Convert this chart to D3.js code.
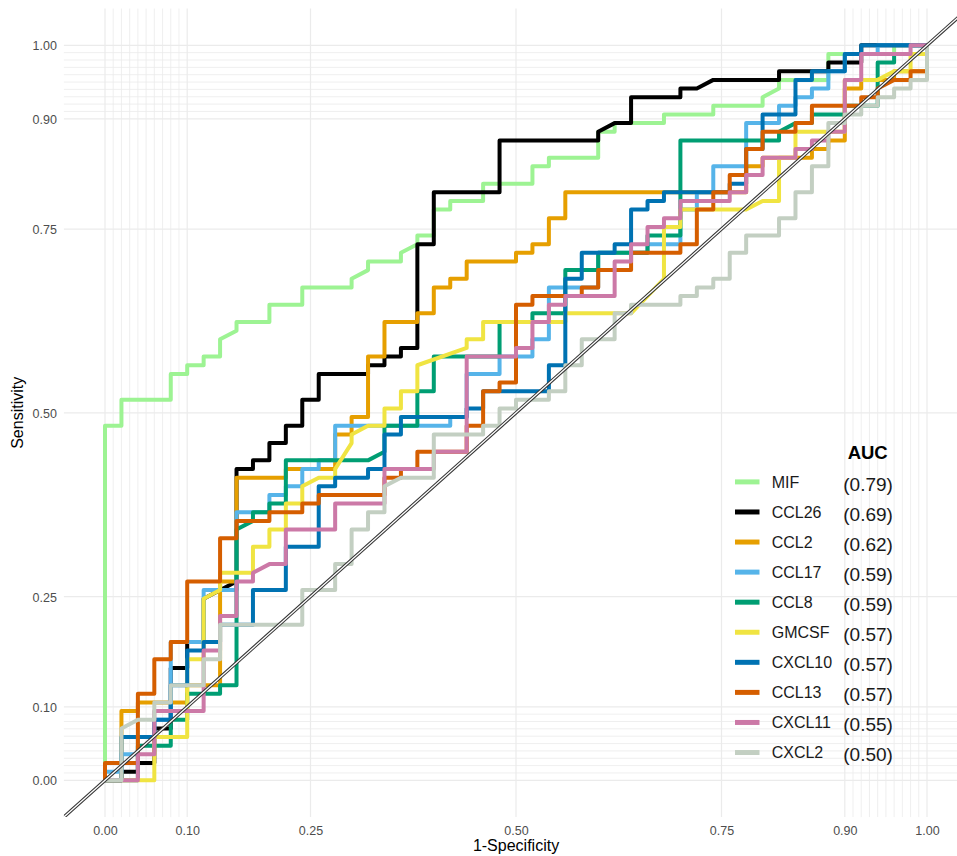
<!DOCTYPE html>
<html>
<head>
<meta charset="utf-8">
<script src="https://cdn.jsdelivr.net/npm/d3@7"></script>
<style>
  body { margin: 0; background: #fff; }
  svg { display: block; font-family: "Liberation Sans", Arial, sans-serif; }
</style>
</head>
<body>
<svg id="chart" width="957" height="856"></svg>
<script>
// ROC points stored as [false positives, true positives] counts
const N_NEG = 50;
const N_POS = 85;

const markers = ['MIF', 'CCL26', 'CCL2', 'CCL17', 'CCL8', 'GMCSF', 'CXCL10', 'CCL13', 'CXCL11', 'CXCL2'];
const aucLabels = ['(0.79)', '(0.69)', '(0.62)', '(0.59)', '(0.59)', '(0.57)', '(0.57)', '(0.57)', '(0.55)', '(0.50)'];
const colors = ['#9DF393', '#000000', '#E69F00', '#56B4E9', '#009E73', '#F0E442', '#0072B2', '#D55E00', '#CC79A7', '#C3CFC2'];

const majorBreaks = [0, 0.1, 0.25, 0.5, 0.75, 0.9, 1];
const minorBreaks = [0.01, 0.02, 0.03, 0.04, 0.05, 0.06, 0.07, 0.08, 0.09,
                     0.91, 0.92, 0.93, 0.94, 0.95, 0.96, 0.97, 0.98, 0.99];

const rocMIF = [[0,0],[0,41],[1,41],[1,44],[4,44],[4,47],[5,47],[5,48],[6,48],[6,49],[7,49],[7,51],[8,52],[8,53],
  [10,53],[10,55],[12,55],[12,57],[15,57],[15,58],[16,59],[16,60],[18,60],[18,61],[19,62],[19,63],[20,63],[20,66],
  [21,66],[21,67],[23,67],[23,69],[26,69],[26,71],[27,71],[27,72],[30,72],[30,75],[31,75],[31,76],[34,76],[34,77],
  [37,77],[37,78],[40,78],[40,79],[41,80],[41,81],[44,81],[44,84],[48,84],[48,85],[50,85]];

const rocCCL26 = [[0,0],[1,0],[1,1],[2,1],[2,2],[3,2],[3,6],[4,6],[4,13],[5,13],[5,16],[6,16],[6,21],[8,23],[8,36],
  [9,36],[9,37],[10,37],[10,39],[11,39],[11,41],[12,41],[12,44],[13,44],[13,47],[16,47],[16,48],[17,48],[17,49],
  [18,49],[18,50],[19,50],[19,62],[20,62],[20,68],[24,68],[24,74],[30,74],[30,75],[31,76],[32,76],[32,79],[35,79],
  [35,80],[36,80],[37,81],[41,81],[41,82],[44,82],[44,83],[46,83],[46,85],[50,85]];

const rocCCL2 = [[0,0],[1,0],[1,8],[2,8],[2,9],[5,9],[5,11],[7,11],[7,23],[8,23],[8,35],[11,35],[11,36],[14,36],
  [14,40],[15,40],[15,42],[16,42],[16,49],[17,49],[17,53],[19,53],[19,54],[20,54],[20,57],[21,57],[21,58],[22,58],
  [22,60],[25,60],[25,61],[26,61],[26,62],[27,62],[27,65],[28,65],[28,68],[39,68],[39,71],[40,71],[40,72],[43,72],
  [43,73],[44,73],[44,74],[45,74],[45,80],[46,80],[46,81],[48,81],[48,82],[50,82],[50,85]];

const rocCCL17 = [[0,0],[0,1],[1,1],[1,3],[2,3],[2,5],[3,5],[3,7],[4,7],[4,16],[6,16],[6,22],[8,22],[8,31],[10,31],
  [10,33],[11,33],[11,34],[12,34],[12,36],[13,36],[13,37],[14,37],[14,41],[21,41],[21,42],[22,42],[22,47],[24,47],
  [24,49],[26,49],[26,51],[27,51],[27,57],[30,57],[30,61],[33,61],[33,62],[35,62],[35,66],[36,66],[36,68],[37,68],
  [37,71],[39,71],[39,76],[41,76],[41,78],[42,78],[42,79],[43,79],[43,80],[44,80],[44,82],[45,82],[45,84],[47,84],
  [47,85],[50,85]];

const rocCCL8 = [[0,0],[2,0],[2,4],[4,4],[4,7],[5,7],[5,10],[7,10],[7,11],[8,11],[8,29],[9,30],[9,31],[10,31],
  [10,32],[11,32],[11,37],[16,37],[17,38],[17,41],[19,41],[19,45],[20,45],[20,49],[24,49],[24,53],[26,53],[26,54],
  [28,54],[28,59],[30,59],[30,61],[33,61],[33,63],[35,63],[35,74],[41,74],[41,75],[42,76],[43,76],[43,77],[45,77],
  [45,78],[47,78],[47,83],[48,83],[48,84],[50,84],[50,85]];

const rocGMCSF = [[0,0],[3,0],[3,5],[5,5],[5,14],[6,14],[6,21],[7,22],[7,24],[9,24],[9,27],[10,27],[10,29],[11,29],
  [11,32],[12,32],[12,34],[13,35],[14,35],[14,36],[15,39],[15,40],[16,41],[17,41],[17,43],[18,43],[18,45],[19,45],
  [19,48],[22,50],[22,51],[23,51],[23,53],[28,53],[28,54],[32,54],[34,58],[34,64],[35,64],[35,66],[39,66],[40,67],
  [41,67],[41,72],[42,72],[42,75],[45,75],[45,81],[47,81],[48,82],[49,82],[49,84],[50,84],[50,85]];

const rocCXCL10 = [[0,0],[1,0],[1,5],[3,5],[3,7],[4,7],[4,11],[5,11],[5,15],[6,15],[6,16],[7,16],[7,18],[9,18],
  [9,22],[11,22],[11,27],[13,27],[13,34],[14,34],[14,35],[16,35],[16,36],[17,36],[17,40],[18,40],[18,42],[22,42],
  [22,43],[23,43],[23,45],[27,45],[27,48],[28,48],[28,58],[29,58],[29,61],[31,61],[31,62],[32,62],[32,66],[33,66],
  [33,67],[34,67],[34,68],[38,68],[38,69],[39,69],[39,73],[40,73],[40,77],[42,77],[42,81],[43,81],[43,82],[45,82],
  [45,84],[46,84],[46,85],[50,85]];

const rocCCL13 = [[0,0],[0,2],[2,2],[2,10],[3,10],[3,14],[4,14],[4,16],[5,16],[5,23],[7,23],[7,28],[8,28],[8,30],
  [10,30],[10,31],[12,31],[12,32],[13,32],[13,33],[17,33],[17,35],[18,35],[18,36],[19,36],[19,38],[22,38],[22,41],
  [23,41],[23,45],[24,45],[24,46],[25,46],[25,55],[26,55],[26,56],[29,56],[29,57],[30,57],[30,59],[32,59],[32,61],
  [35,61],[35,62],[36,62],[36,66],[37,66],[37,68],[38,68],[38,70],[39,70],[39,73],[40,73],[40,75],[42,75],[42,76],
  [43,76],[43,78],[46,78],[46,79],[47,79],[47,80],[48,81],[49,81],[49,82],[50,82],[50,85]];

const rocCXCL11 = [[0,0],[2,0],[2,3],[3,3],[3,8],[6,8],[6,15],[7,15],[7,19],[8,19],[8,23],[9,23],[9,24],[10,25],
  [11,25],[11,29],[14,29],[14,32],[17,32],[17,36],[20,36],[20,38],[22,38],[22,49],[25,49],[25,50],[26,50],[26,53],
  [27,53],[27,55],[28,55],[28,56],[31,56],[31,60],[32,60],[32,62],[33,62],[33,64],[34,64],[34,65],[35,65],[35,67],
  [38,67],[38,68],[39,68],[39,70],[40,70],[40,72],[42,72],[42,73],[43,73],[43,74],[44,74],[44,75],[45,75],[45,81],
  [46,81],[46,84],[49,84],[49,85],[50,85]];

const rocCXCL2 = [[0,0],[1,0],[1,6],[2,7],[3,7],[3,9],[4,9],[4,11],[6,11],[6,14],[7,14],[7,18],[12,18],[12,22],
  [14,22],[14,25],[15,25],[15,29],[16,29],[16,31],[17,31],[17,34],[18,35],[20,35],[20,40],[23,40],[23,41],[24,41],
  [24,43],[25,43],[25,44],[27,44],[27,45],[28,45],[28,48],[29,48],[29,51],[31,51],[31,54],[32,54],[32,55],[35,55],
  [35,56],[36,56],[36,57],[37,57],[37,58],[38,58],[38,61],[39,61],[39,63],[41,63],[41,65],[42,65],[42,68],[43,68],
  [43,71],[44,71],[44,76],[45,76],[45,77],[46,77],[46,78],[47,78],[47,79],[48,79],[48,80],[49,80],[49,81],[50,81],
  [50,85]];

const rocData = [rocMIF, rocCCL26, rocCCL2, rocCCL17, rocCCL8, rocGMCSF, rocCXCL10, rocCCL13, rocCXCL11, rocCXCL2];

const svg = d3.select('#chart');

const x = d3.scaleLinear().domain([-0.05, 1.05]).range([63.9, 968.1]);
const y = d3.scaleLinear().domain([-0.05, 1.05]).range([817.05, 8.55]);

const panel = { x0: x(-0.05), x1: x(1.05), y0: y(1.05), y1: y(-0.05) };

svg.append('defs').append('clipPath').attr('id', 'panel-clip')
    .append('rect')
    .attr('x', panel.x0).attr('y', panel.y0)
    .attr('width', panel.x1 - panel.x0).attr('height', panel.y1 - panel.y0);

// grid
const grid = svg.append('g').attr('class', 'grid');
function drawGrid (vals, width) {
    grid.selectAll(null).data(vals).enter().append('line')
        .attr('x1', d => x(d)).attr('x2', d => x(d))
        .attr('y1', panel.y0).attr('y2', panel.y1)
        .attr('stroke', '#EBEBEB').attr('stroke-width', width);
    grid.selectAll(null).data(vals).enter().append('line')
        .attr('y1', d => y(d)).attr('y2', d => y(d))
        .attr('x1', panel.x0).attr('x2', panel.x1)
        .attr('stroke', '#EBEBEB').attr('stroke-width', width);
}
drawGrid(minorBreaks, 0.8);
drawGrid(majorBreaks, 1.2);

// curves
const line = d3.line()
    .x(d => x(d[0] / N_NEG))
    .y(d => y(d[1] / N_POS));

const curves = svg.append('g').attr('clip-path', 'url(#panel-clip)');
rocData.forEach((pts, i) => {
    curves.append('path')
        .datum(pts)
        .attr('d', line)
        .attr('fill', 'none')
        .attr('stroke', colors[i])
        .attr('stroke-width', 4)
        .attr('stroke-linejoin', 'round')
        .attr('stroke-linecap', 'butt');
});

// reference diagonal (abline 0,1)
const diag = [[-0.05, -0.05], [1.05, 1.05]];
curves.append('line')
    .attr('x1', x(diag[0][0])).attr('y1', y(diag[0][1]))
    .attr('x2', x(diag[1][0])).attr('y2', y(diag[1][1]))
    .attr('stroke', '#333').attr('stroke-width', 3.4);
curves.append('line')
    .attr('x1', x(diag[0][0])).attr('y1', y(diag[0][1]))
    .attr('x2', x(diag[1][0])).attr('y2', y(diag[1][1]))
    .attr('stroke', '#fff').attr('stroke-width', 1.3);

// axes
const fmt = d3.format('.2f');
const xAxis = svg.append('g')
    .attr('transform', `translate(0,${panel.y1})`)
    .call(d3.axisBottom(x).tickValues(majorBreaks).tickFormat(fmt).tickSize(0));
xAxis.select('.domain').remove();
xAxis.selectAll('text')
    .attr('y', 18).attr('dy', null)
    .attr('fill', '#4D4D4D')
    .style('font-size', '12.5px')
    .style('font-family', '"Liberation Sans", Arial, sans-serif');

const yAxis = svg.append('g')
    .attr('transform', `translate(${panel.x0},0)`)
    .call(d3.axisLeft(y).tickValues(majorBreaks).tickFormat(fmt).tickSize(0));
yAxis.select('.domain').remove();
yAxis.selectAll('text')
    .attr('x', -7).attr('dy', '0.37em')
    .attr('fill', '#4D4D4D')
    .style('font-size', '12.5px')
    .style('font-family', '"Liberation Sans", Arial, sans-serif');

svg.append('text')
    .attr('x', (x(0) + x(1)) / 2).attr('y', 851)
    .attr('text-anchor', 'middle')
    .style('font-size', '16px')
    .text('1-Specificity');

svg.append('text')
    .attr('transform', `translate(23,${(y(0) + y(1)) / 2}) rotate(-90)`)
    .attr('text-anchor', 'middle')
    .style('font-size', '16px')
    .text('Sensitivity');

// legend
const legend = svg.append('g').attr('class', 'legend');
legend.append('text')
    .attr('x', 867.7).attr('y', 458.5)
    .attr('text-anchor', 'middle')
    .style('font-size', '18.5px').style('font-weight', 'bold')
    .text('AUC');

const rows = legend.selectAll('g.row').data(markers).enter().append('g')
    .attr('class', 'row')
    .attr('transform', (d, i) => `translate(0,${481.9 + i * 30.07})`);
rows.append('line')
    .attr('x1', 735).attr('x2', 759.5).attr('y1', 0).attr('y2', 0)
    .attr('stroke', (d, i) => colors[i]).attr('stroke-width', 5);
rows.append('text')
    .attr('x', 771.7).attr('y', 5.8)
    .style('font-size', '16px').attr('fill', '#1A1A1A')
    .text(d => d);
rows.append('text')
    .attr('x', 843.3).attr('y', 8.6)
    .style('font-size', '19px').attr('fill', '#1A1A1A')
    .text((d, i) => aucLabels[i]);
</script>
</body>
</html>
